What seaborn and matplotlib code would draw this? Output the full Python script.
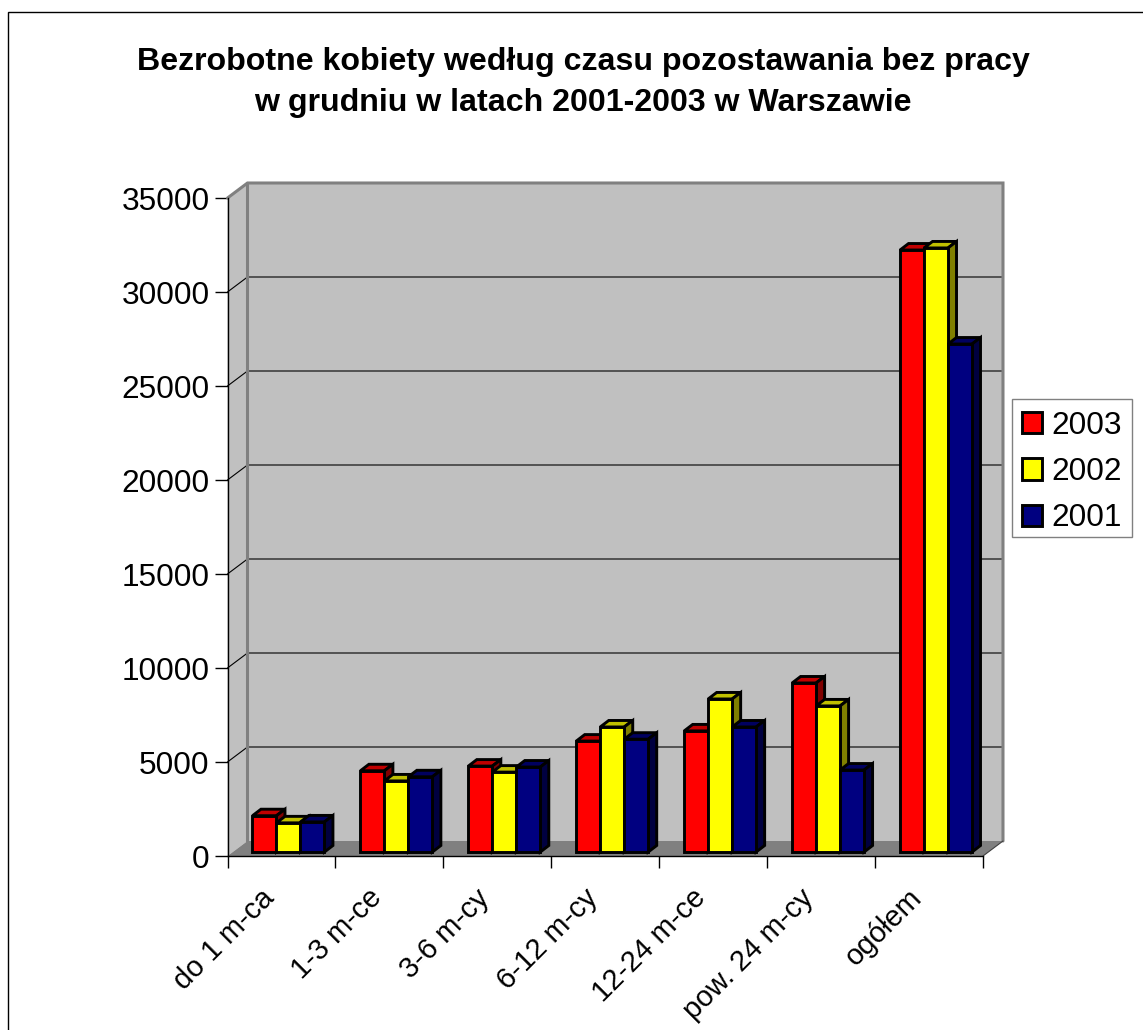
import matplotlib
matplotlib.use("Agg")
import matplotlib.pyplot as plt
from matplotlib.patches import Polygon, Rectangle
import seaborn as sns
import pandas as pd

categories = ["do 1 m-ca", "1-3 m-ce", "3-6 m-cy", "6-12 m-cy", "12-24 m-ce", "pow. 24 m-cy", "ogółem"]
years = ["2003", "2002", "2001"]
values_2003 = [1930, 4320, 4570, 5900, 6440, 8990, 32020]
values_2002 = [1550, 3780, 4250, 6650, 8140, 7770, 32130]
values_2001 = [1600, 4000, 4520, 6000, 6650, 4360, 27020]
yticks = [0, 5000, 10000, 15000, 20000, 25000, 30000, 35000]
title = "Bezrobotne kobiety według czasu pozostawania bez pracy\nw grudniu w latach 2001-2003 w Warszawie"

front_colors = ["#FF0000", "#FFFF00", "#000080"]
top_colors = ["#C00000", "#C0C000", "#000060"]
side_colors = ["#800000", "#808000", "#000040"]

W, H = 1143, 1030
PX_X = 1 / 108      # one pixel in x data units
PX_Y = 5000 / 94    # one pixel in y data units

df = pd.DataFrame({
    "category": categories * 3,
    "year": sum([[y] * len(categories) for y in years], []),
    "value": values_2003 + values_2002 + values_2001,
})

sns.set_style("white", {"text.color": "black", "xtick.color": "black", "ytick.color": "black"})
plt.rcParams["font.family"] = ["Liberation Sans", "DejaVu Sans"]

fig = plt.figure(figsize=(W / 100, H / 100), dpi=100)
ax = fig.add_axes([227.5 / W, 1 - 856 / H, 755.5 / W, 658 / H])
ax.patch.set_visible(False)

sns.barplot(data=df, x="category", y="value", hue="year", hue_order=years, order=categories,
            palette=front_colors, width=72 / 108, gap=0, errorbar=None, ax=ax,
            edgecolor="black", linewidth=2.1, saturation=1)

ax.set_xlim(-0.5, 6.5)
ax.set_ylim(0, 35000)
ax.set_xlabel("")
ax.set_ylabel("")

# room walls, in pixels away from the front plane
wall_dx = 20 * PX_X
wall_dy = 15 * PX_Y
x0, x1 = -0.5, 6.5
ymax = 35000

ax.add_patch(Polygon([(x0 + wall_dx, wall_dy), (x1 + wall_dx, wall_dy), (x1 + wall_dx, ymax + wall_dy), (x0 + wall_dx, ymax + wall_dy)],
                     fc="#C0C0C0", ec="none", clip_on=False, zorder=0.5))
ax.add_patch(Polygon([(x0, 0), (x0 + wall_dx, wall_dy), (x0 + wall_dx, ymax + wall_dy), (x0, ymax)],
                     fc="#C0C0C0", ec="none", clip_on=False, zorder=0.5))
ax.add_patch(Polygon([(x0, 0), (x1, 0), (x1 + wall_dx, wall_dy), (x0 + wall_dx, wall_dy)],
                     fc="#808080", ec="none", clip_on=False, zorder=0.6))

for t in yticks[1:-1]:
    ax.plot([x0, x0 + wall_dx, x1 + wall_dx], [t, t + wall_dy, t + wall_dy], color="black", lw=0.8,
            clip_on=False, zorder=0.7)

ax.plot([x0, x0 + wall_dx, x1 + wall_dx, x1 + wall_dx], [ymax, ymax + wall_dy, ymax + wall_dy, wall_dy],
        color="#808080", lw=2.2, clip_on=False, zorder=0.8, solid_joinstyle="miter")
ax.plot([x0 + wall_dx, x0 + wall_dx], [wall_dy, ymax + wall_dy], color="#808080", lw=2.2, clip_on=False, zorder=0.8)
ax.plot([x1, x1 + wall_dx], [0, wall_dy], color="#404040", lw=0.8, clip_on=False, zorder=0.8)

# bars: push off the front plane, then give each one a top and a side
bar_dx = 7 * PX_X
bar_dy = 4 * PX_Y
depth_x = 8.5 * PX_X
depth_y = 6.5 * PX_Y

for j, container in enumerate(ax.containers):
    for i, bar in enumerate(container):
        z = 2 + j * 0.2
        bar.set_x(bar.get_x() + bar_dx)
        bar.set_y(bar_dy)
        bar.set_zorder(z + 0.1)
        bar.set_joinstyle("miter")
        left = bar.get_x()
        right = left + bar.get_width()
        top = bar_dy + bar.get_height()
        ax.add_patch(Polygon([(left, top), (right, top), (right + depth_x, top + depth_y), (left + depth_x, top + depth_y)],
                             fc=top_colors[j], ec="black", lw=2.1, zorder=z, clip_on=False, joinstyle="miter"))
        ax.add_patch(Polygon([(right, bar_dy), (right + depth_x, bar_dy + depth_y), (right + depth_x, top + depth_y), (right, top)],
                             fc=side_colors[j], ec="black", lw=2.1, zorder=z, clip_on=False, joinstyle="miter"))

# axes
sns.despine(ax=ax, top=True, right=True)
for side in ("left", "bottom"):
    ax.spines[side].set_color("black")
    ax.spines[side].set_linewidth(1.0)
    ax.spines[side].set_zorder(1.5)

ax.set_yticks(yticks)
ax.set_yticklabels([str(t) for t in yticks])
# category labels sit left of the category centres, as in the original
ax.set_xticks([i - 0.2 for i in range(len(categories))])
ax.set_xticklabels(categories)
ax.set_xticks([i - 0.5 for i in range(len(categories) + 1)], minor=True)
ax.tick_params(axis="y", left=True, length=9.4, width=1.0, color="black", pad=3.6, labelsize=22.8)
ax.tick_params(axis="x", which="major", bottom=False, length=0, pad=20, labelsize=21)
ax.tick_params(axis="x", which="minor", bottom=True, length=8.6, width=1.0, color="black")
for lab in ax.get_xticklabels():
    lab.set_rotation(45)
    lab.set_ha("right")
    lab.set_rotation_mode("anchor")

# legend, frame drawn separately so its padding can follow the original
handles, labels = ax.get_legend_handles_labels()
leg = ax.legend(handles, labels, loc="upper left", bbox_to_anchor=(1021.5 / W, 1 - 410.5 / H), bbox_transform=fig.transFigure,
                ncol=1, frameon=False, fontsize=22.8,
                handlelength=0.66, handleheight=0.66, handletextpad=0.28, labelspacing=0.52,
                borderpad=0, borderaxespad=0, title=None)
leg.set_zorder(10)
for h in leg.get_patches():
    h.set_edgecolor("black")
    h.set_linewidth(2.1)
fig.add_artist(Rectangle((1012 / W, 1 - 537 / H), 120 / W, 138 / H, transform=fig.transFigure, fc="white", ec="#808080", lw=1.0, zorder=-1))

fig.suptitle(title, x=583 / W, y=1 - 47 / H, va="top", ha="center", fontsize=23.1, fontweight="bold", linespacing=1.5)

# chart frame, runs off the right and bottom of the picture
fig.add_artist(Rectangle((7.5 / W, -0.01), 1.02, 1 - 11.5 / H + 0.01, transform=fig.transFigure, fill=False, ec="black", lw=1.0))

fig.savefig("out.png", dpi=100)
